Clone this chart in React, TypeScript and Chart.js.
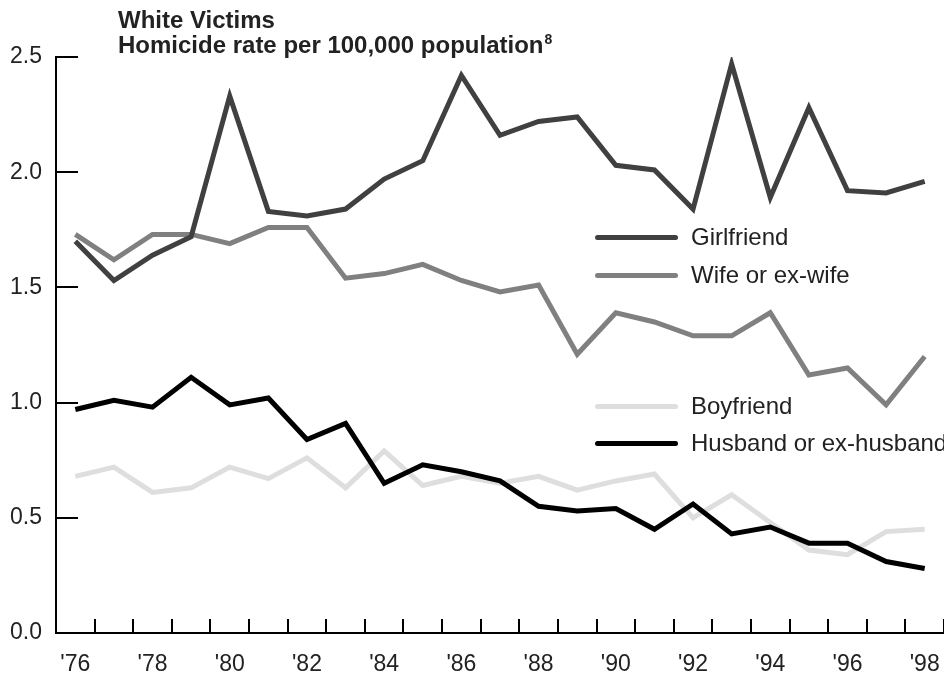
import React, { useEffect, useRef } from 'react';
import { Chart, registerables } from 'chart.js';

Chart.register(...registerables);

// ---- data ----
const years = ["'76", "'77", "'78", "'79", "'80", "'81", "'82", "'83", "'84", "'85", "'86", "'87", "'88", "'89", "'90", "'91", "'92", "'93", "'94", "'95", "'96", "'97", "'98"];

const girlfriend = [1.70, 1.53, 1.64, 1.72, 2.33, 1.83, 1.81, 1.84, 1.97, 2.05, 2.42, 2.16, 2.22, 2.24, 2.03, 2.01, 1.84, 2.47, 1.89, 2.28, 1.92, 1.91, 1.96];
const wife = [1.73, 1.62, 1.73, 1.73, 1.69, 1.76, 1.76, 1.54, 1.56, 1.60, 1.53, 1.48, 1.51, 1.21, 1.39, 1.35, 1.29, 1.29, 1.39, 1.12, 1.15, 0.99, 1.20];
const boyfriend = [0.68, 0.72, 0.61, 0.63, 0.72, 0.67, 0.76, 0.63, 0.79, 0.64, 0.68, 0.65, 0.68, 0.62, 0.66, 0.69, 0.50, 0.60, 0.48, 0.36, 0.34, 0.44, 0.45];
const husband = [0.97, 1.01, 0.98, 1.11, 0.99, 1.02, 0.84, 0.91, 0.65, 0.73, 0.70, 0.66, 0.55, 0.53, 0.54, 0.45, 0.56, 0.43, 0.46, 0.39, 0.39, 0.31, 0.28];

const seriesLabels = ['Girlfriend', 'Wife or ex-wife', 'Boyfriend', 'Husband or ex-husband'];
const seriesColors = ['#404040', '#808080', '#dedede', '#000000'];
const seriesData = [girlfriend, wife, boyfriend, husband];
const seriesOrder = [1, 2, 3, 0];

const titleLines = ['White Victims', 'Homicide rate per 100,000 population'];
const titleNote = '8';

const yMin = 0;
const yMax = 2.5;
const yStep = 0.5;

// ---- styling ----
const FONT = '"Liberation Sans", Arial, Helvetica, sans-serif';
const TEXT = '#222222';

// legend placement (two groups inside plot)
const legendRows = [
  { idx: 0, y: 237 },
  { idx: 1, y: 275 },
  { idx: 2, y: 406 },
  { idx: 3, y: 443 },
];

export default function App() {
  const ref = useRef<HTMLCanvasElement | null>(null);

  useEffect(() => {
    if (!ref.current) return;
    const chart = new Chart(ref.current, {
      type: 'line',
      data: {
        labels: years,
        datasets: seriesData.map((d, i) => ({
          label: seriesLabels[i],
          data: d,
          borderColor: seriesColors[i],
          backgroundColor: seriesColors[i],
          borderWidth: 5,
          pointRadius: 0,
          pointHoverRadius: 0,
          tension: 0,
          fill: false,
          order: seriesOrder[i],
          borderJoinStyle: 'miter' as const,
          borderCapStyle: 'butt' as const,
        })),
      },
      options: {
        animation: false,
        responsive: false,
        maintainAspectRatio: false,
        layout: { padding: { top: 57, left: 0, right: 0, bottom: 0 } },
        plugins: {
          legend: { display: false },
          tooltip: { enabled: false },
          title: { display: false },
        },
        scales: {
          x: {
            type: 'category',
            offset: true,
            grid: {
              offset: true,
              drawOnChartArea: false,
              drawTicks: true,
              tickLength: -14,
              color: '#000',
              lineWidth: 2,
            },
            border: { display: true, color: '#000', width: 2 },
            ticks: {
              autoSkip: false,
              maxRotation: 0,
              minRotation: 0,
              padding: 32,
              color: TEXT,
              font: { family: FONT, size: 23 },
              callback: (_v: any, i: number) => (i % 2 === 0 ? years[i] : ''),
            },
            afterFit: (s: any) => {
              s.height = 42;
              s.paddingLeft = 0;
              s.paddingRight = 0;
            },
          },
          y: {
            min: yMin,
            max: yMax,
            grid: {
              drawOnChartArea: false,
              drawTicks: true,
              tickLength: -22,
              color: '#000',
              lineWidth: 2,
            },
            border: { display: true, color: '#000', width: 2 },
            ticks: {
              stepSize: yStep,
              padding: 36,
              color: TEXT,
              font: { family: FONT, size: 23 },
              callback: (v: any) => Number(v).toFixed(1),
            },
            afterFit: (s: any) => {
              s.width = 56;
              s.paddingTop = 0;
              s.paddingBottom = 0;
            },
          },
        },
      },
    });
    return () => chart.destroy();
  }, []);

  return (
    <div style={{ position: 'absolute', left: 0, top: 0, width: 944, height: 675, background: '#fff', overflow: 'hidden' }}>
      <canvas ref={ref} width={944} height={675} style={{ position: 'absolute', left: 0, top: 0, width: 944, height: 675 }} />
      <div
        style={{
          position: 'absolute',
          left: 118,
          top: 7,
          fontFamily: FONT,
          fontWeight: 'bold',
          fontSize: 24,
          lineHeight: '25px',
          color: TEXT,
          whiteSpace: 'nowrap',
        }}
      >
        <div>{titleLines[0]}</div>
        <div>
          {titleLines[1]}
          <span style={{ fontSize: 14, position: 'relative', top: -9, marginLeft: 1 }}>{titleNote}</span>
        </div>
      </div>
      {legendRows.map((r) => (
        <div
          key={r.idx}
          style={{
            position: 'absolute',
            left: 595,
            top: r.y - 15,
            height: 30,
            display: 'flex',
            alignItems: 'center',
            whiteSpace: 'nowrap',
          }}
        >
          <div style={{ width: 83, height: 5, borderRadius: 2.5, background: seriesColors[r.idx] }} />
          <span style={{ marginLeft: 13, fontFamily: FONT, fontSize: 24, color: TEXT }}>{seriesLabels[r.idx]}</span>
        </div>
      ))}
    </div>
  );
}
